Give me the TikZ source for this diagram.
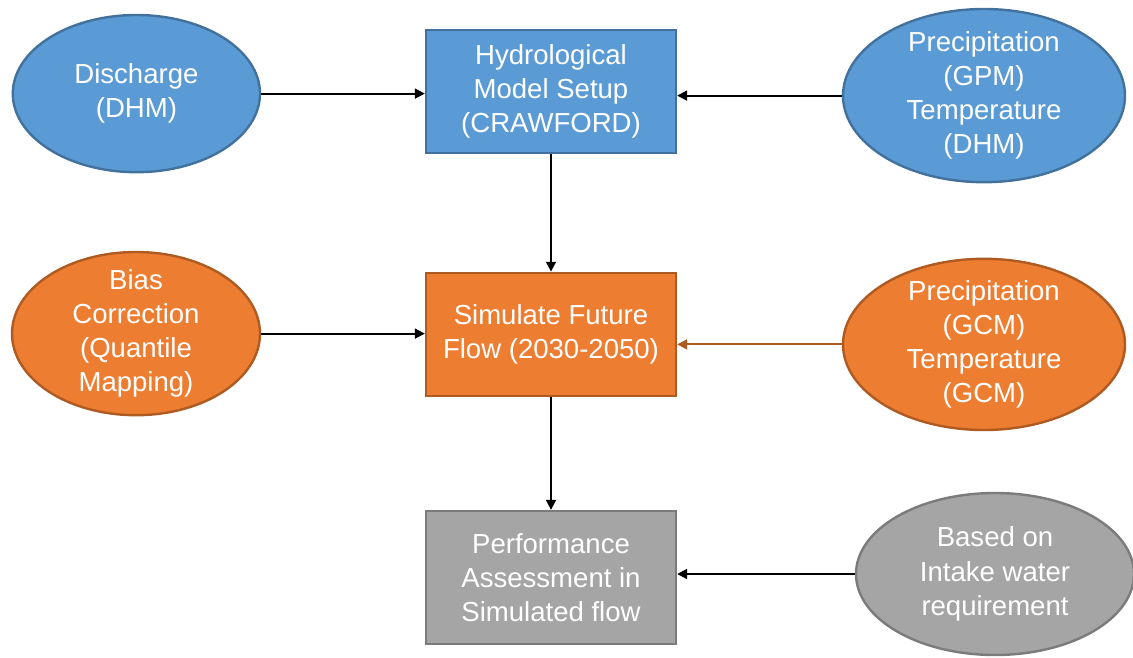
\documentclass[tikz,border=0pt]{standalone}
\usepackage{fontspec}
\setmainfont{Liberation Sans}
\usepackage{xcolor}
\definecolor{skyfill}{HTML}{5B9BD5}
\definecolor{skyline}{HTML}{41719C}
\definecolor{rustfill}{HTML}{ED7D31}
\definecolor{rustline}{HTML}{AE5A21}
\definecolor{greyfill}{HTML}{A5A5A5}
\definecolor{greyline}{HTML}{7B7B7B}
\usepackage{tikz}
\usetikzlibrary{arrows.meta,positioning,shapes.geometric}
\tikzset{
  every picture/.style={font=\fontsize{19.6}{24.3}\selectfont},
  block/.style={rectangle, draw=#1line, fill=#1fill, line width=1.7pt, text=white, align=center,
    minimum width=6.25cm, inner sep=0pt},
  oval/.style={ellipse, draw=#1line, fill=#1fill, line width=1.7pt, text=white, align=center,
    inner sep=-0.5cm},
  arrow/.style={-{Triangle[length=7pt, width=7pt]}, draw=black, line width=1.3pt},
}

\begin{document}
\begin{tikzpicture}
  \useasboundingbox (0,0) rectangle (28.325,-16.425);

  % inputs and model, top row
  \node[oval=sky, minimum width=6.18cm, minimum height=3.93cm] (dis) at (3.41,-2.34) {Discharge\\(DHM)};
  \node[block=sky, minimum height=3.08cm] (hyd) at (13.775,-2.29) {Hydrological\\Model Setup\\(CRAWFORD)};
  \node[oval=sky, minimum width=7.05cm, minimum height=4.33cm] (obs) at (24.6,-2.39) {Precipitation\\(GPM)\\Temperature\\(DHM)};

  % future climate, middle row
  \node[oval=rust, minimum width=6.2cm, minimum height=4.08cm] (bias) at (3.4,-8.34) {Bias\\Correction\\(Quantile\\Mapping)};
  \node[block=rust, minimum height=3.08cm] (sim) at (13.775,-8.36) {Simulate Future\\Flow (2030-2050)};
  \node[oval=rust, minimum width=7.05cm, minimum height=4.28cm] (gcm) at (24.6,-8.61) {Precipitation\\(GCM)\\Temperature\\(GCM)};

  % assessment, bottom row
  \node[block=grey, minimum height=3.33cm] (perf) at (13.775,-14.44) {Performance\\Assessment in\\Simulated flow};
  \node[oval=grey, minimum width=6.95cm, minimum height=4.05cm] (req) at (24.875,-14.35) {Based on\\Intake water\\requirement};

  \draw[arrow] (dis.east) -- (dis.east -| hyd.west);
  \draw[arrow] (obs.west) -- (obs.west -| hyd.east);
  \draw[arrow] (bias.east) -- (bias.east -| sim.west);
  \draw[arrow, draw=rustline, -{Triangle[length=7pt, width=7pt, fill=rustline]}] (gcm.west) -- (gcm.west -| sim.east);
  \draw[arrow] (req.west) -- (req.west -| perf.east);
  \foreach \a/\b in {hyd/sim, sim/perf} \draw[arrow] (\a) -- (\b);
\end{tikzpicture}
\end{document}
